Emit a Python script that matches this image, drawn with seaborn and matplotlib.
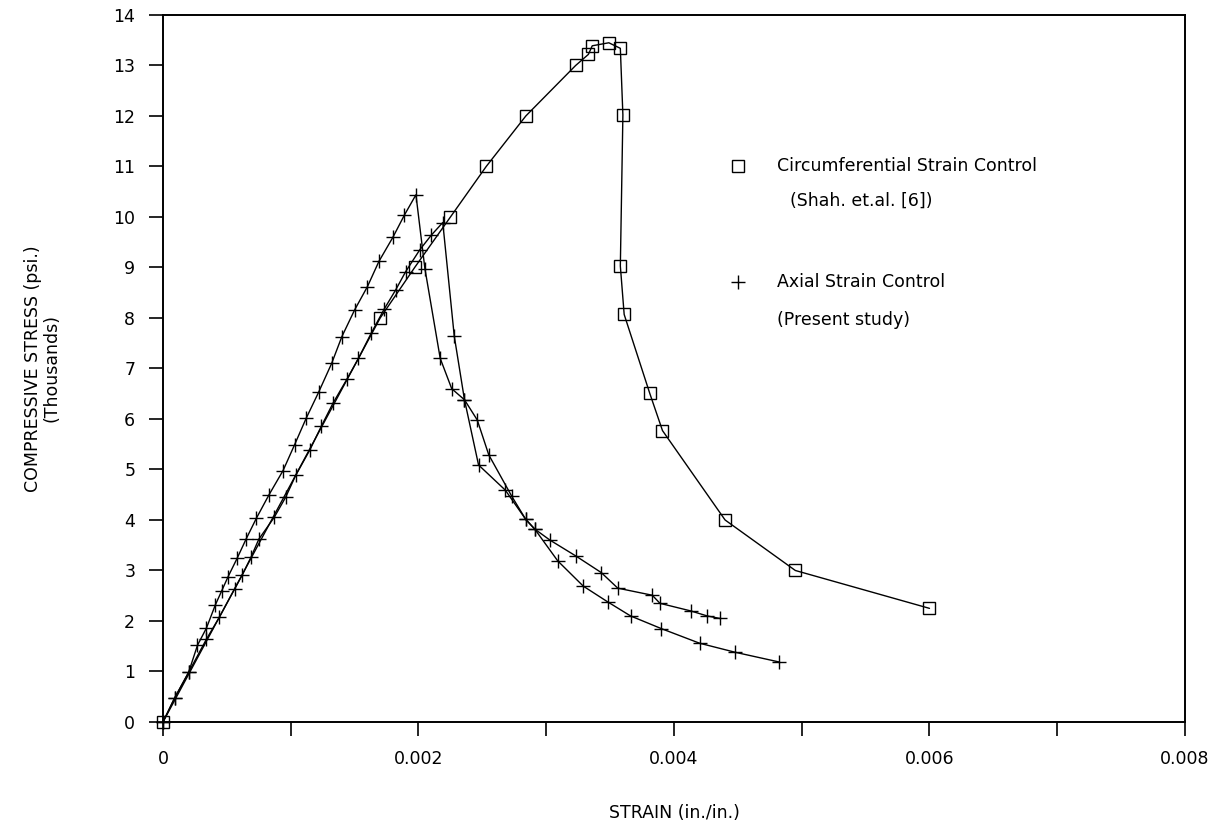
import matplotlib
matplotlib.use("Agg")
import matplotlib.pyplot as plt
import numpy as np
import pandas as pd
import seaborn as sns

# Circumferential strain control (Shah et al.)
circ_strain = [0, 0.00170, 0.00197, 0.00225, 0.00253, 0.00284, 0.00323, 0.00333,
               0.00336, 0.00349, 0.00358, 0.00360, 0.00358, 0.00361, 0.00381,
               0.00391, 0.00440, 0.00495, 0.00600]
circ_stress = [0, 8.0, 9.0, 10.0, 11.0, 12.0, 13.0, 13.22, 13.39, 13.45, 13.34,
               12.02, 9.03, 8.07, 6.51, 5.77, 4.0, 3.0, 2.25]

# Axial strain control, specimen A
axA_strain = [0, 0.00009, 0.00020, 0.00027, 0.00034, 0.00041, 0.00046, 0.00051,
              0.00058, 0.00065, 0.00073, 0.00083, 0.00094, 0.00103, 0.00112,
              0.00122, 0.00132, 0.00140, 0.00150, 0.00160, 0.00169, 0.00180,
              0.00189, 0.00198, 0.00205, 0.00217, 0.00226, 0.00236, 0.00247,
              0.00268, 0.00284, 0.00291, 0.00309, 0.00329, 0.00348, 0.00366,
              0.00390, 0.00420, 0.00448, 0.00482]
axA_stress = [0, 0.47, 0.98, 1.52, 1.86, 2.32, 2.60, 2.88, 3.24, 3.62, 4.03, 4.50,
              4.98, 5.49, 6.01, 6.54, 7.10, 7.63, 8.16, 8.62, 9.12, 9.60, 10.04,
              10.44, 8.98, 7.20, 6.60, 6.38, 5.09, 4.59, 4.01, 3.82, 3.19, 2.69,
              2.38, 2.10, 1.85, 1.56, 1.38, 1.19]

# Axial strain control, specimen B
axB_strain = [0, 0.00009, 0.00020, 0.00034, 0.00044, 0.00056, 0.00062, 0.00069,
              0.00075, 0.00087, 0.00096, 0.00104, 0.00115, 0.00124, 0.00133,
              0.00144, 0.00153, 0.00163, 0.00173, 0.00182, 0.00190, 0.00201,
              0.00210, 0.00219, 0.00228, 0.00236, 0.00246, 0.00255, 0.00273,
              0.00284, 0.00291, 0.00303, 0.00323, 0.00343, 0.00356, 0.00383,
              0.00389, 0.00413, 0.00426, 0.00436]
axB_stress = [0, 0.47, 0.98, 1.64, 2.07, 2.63, 2.91, 3.27, 3.62, 4.05, 4.45, 4.89,
              5.39, 5.86, 6.31, 6.79, 7.20, 7.70, 8.17, 8.55, 8.92, 9.35, 9.64,
              9.89, 7.64, 6.38, 5.98, 5.29, 4.47, 4.01, 3.82, 3.60, 3.29, 2.96,
              2.65, 2.51, 2.35, 2.20, 2.10, 2.05]

x_ticks = [0, 0.001, 0.002, 0.003, 0.004, 0.005, 0.006, 0.007, 0.008]
x_tick_labels = ["0", "", "0.002", "", "0.004", "", "0.006", "", "0.008"]
y_ticks = list(range(0, 15))

sns.set_style("ticks")
plt.rcParams["font.family"] = ["DejaVu Sans"]
plt.rcParams["text.color"] = "black"
plt.rcParams["axes.labelcolor"] = "black"

fig = plt.figure(figsize=(12.21, 8.24), dpi=100)
ax = fig.add_axes([0.1335, 0.1238, 0.837, 0.858])

circ = pd.DataFrame({"strain": circ_strain, "stress": circ_stress})
spA = pd.DataFrame({"strain": axA_strain, "stress": axA_stress})
spB = pd.DataFrame({"strain": axB_strain, "stress": axB_stress})

line_kw = dict(color="black", linewidth=1.0, sort=False, estimator=None,
               legend=False, clip_on=False)
for df in (spA, spB):
    sns.lineplot(data=df, x="strain", y="stress", ax=ax, marker="+", markersize=10,
                 markeredgecolor="black", markeredgewidth=1.0, **line_kw)
sns.lineplot(data=circ, x="strain", y="stress", ax=ax, marker="s", markersize=8.5,
             markerfacecolor="none", markeredgecolor="black", markeredgewidth=1.0,
             **line_kw)

ax.set_xlim(0, 0.008)
ax.set_ylim(0, 14)
ax.set_xticks(x_ticks)
ax.set_xticklabels(x_tick_labels)
ax.set_yticks(y_ticks)
ax.set_yticklabels([str(v) for v in y_ticks])
ax.tick_params(direction="out", length=10, width=1.2, labelsize=12.5, pad=10,
               colors="black")
for sp in ax.spines.values():
    sp.set_linewidth(1.4)
    sp.set_color("black")

ax.set_xlabel("STRAIN (in./in.)", fontsize=12.5, labelpad=26)
ax.set_ylabel("COMPRESSIVE STRESS (psi.)\n(Thousands)", fontsize=12.5,
              labelpad=38, linespacing=1.0)

# Legend entries drawn as annotations inside the axes
ax.plot([0.00450], [11.0], marker="s", markersize=8, markerfacecolor="none",
        markeredgecolor="black", linestyle="none")
ax.text(0.00481, 11.0, "Circumferential Strain Control", fontsize=12.5, va="center")
ax.text(0.00491, 10.32, "(Shah. et.al. [6])", fontsize=12.5, va="center")
ax.plot([0.00450], [8.72], marker="+", markersize=10, markeredgecolor="black",
        linestyle="none")
ax.text(0.00481, 8.72, "Axial Strain Control", fontsize=12.5, va="center")
ax.text(0.00481, 7.97, "(Present study)", fontsize=12.5, va="center")

fig.savefig("out.png", dpi=100, facecolor="white")
